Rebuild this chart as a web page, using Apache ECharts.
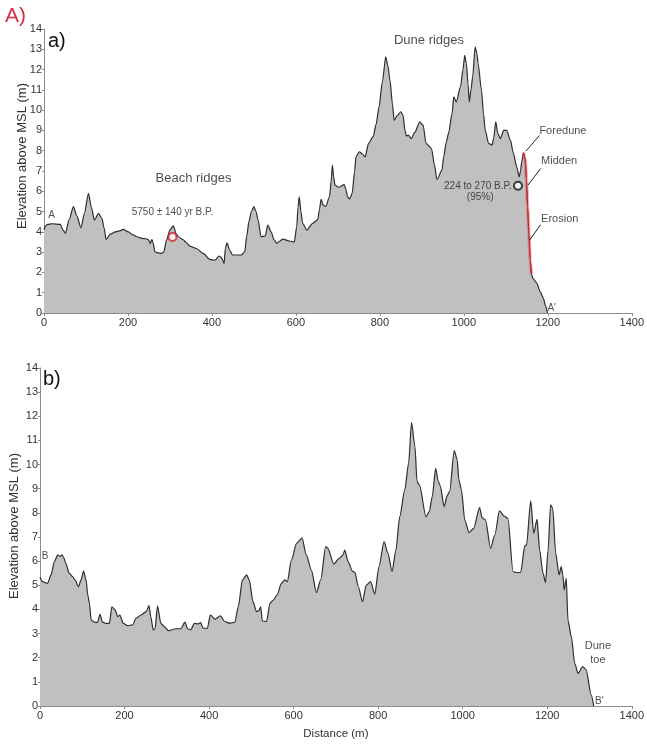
<!DOCTYPE html>
<html>
<head>
<meta charset="utf-8">
<script src="https://cdn.jsdelivr.net/npm/echarts@6/dist/echarts.min.js"></script>
<style>
  html, body { margin: 0; padding: 0; background: #fff; }
  #chart { width: 647px; height: 746px; }
</style>
</head>
<body>
<div id="chart"></div>
<script>
// Profile A–A' : distance along transect (m) and elevation above MSL (m)
const distA = [0, 4, 8, 20, 39, 45, 51, 60, 70, 78, 88, 96, 106, 113, 120, 130, 138, 143, 148, 158,
  170, 180, 189, 201, 212, 221, 233, 243, 249, 253, 257, 260, 264, 272, 280, 285, 292, 300, 308, 315,
  320, 332, 340, 347, 363, 379, 395, 407, 417, 422, 426, 429, 432, 436, 442, 449, 470, 478, 483, 488,
  494, 500, 505, 510, 517, 527, 533, 541, 548, 555, 562, 569, 585, 596, 602, 605, 608, 612, 616, 626,
  640, 652, 656, 660, 665, 671, 680, 684, 687, 690, 693, 702, 715, 719, 723, 728, 734, 740, 743, 751,
  758, 765, 773, 784, 791, 798, 806, 814, 819, 824, 830, 834, 842, 850, 855, 860, 863, 868, 875, 883,
  895, 903, 910, 923, 930, 936, 948, 952, 958, 964, 972, 976, 982, 992, 998, 1002, 1006, 1010, 1013, 1017,
  1021, 1027, 1031, 1034, 1042, 1047, 1051, 1059, 1067, 1071, 1076, 1081, 1087, 1095, 1102, 1111, 1118, 1126, 1132, 1135,
  1138, 1142, 1146, 1149, 1152, 1155, 1158, 1161, 1165, 1173, 1182, 1189, 1195, 1199];
const elevA = [4.1, 4.3, 4.37, 4.4, 4.37, 4.1, 3.93, 4.6, 5.24, 4.8, 4.2, 4.9, 5.9, 5.2, 4.58, 4.91, 4.66, 4.2, 3.63, 3.89,
  4.0, 4.05, 4.12, 4.0, 3.85, 3.76, 3.68, 3.66, 3.6, 3.43, 3.62, 3.45, 3.02, 2.96, 2.94, 3.0, 3.6, 4.1, 4.29, 3.9,
  3.76, 3.6, 3.45, 3.3, 3.18, 2.94, 2.64, 2.6, 2.81, 2.75, 2.6, 2.45, 3.2, 3.46, 3.1, 2.86, 2.86, 3.02, 3.8, 4.5,
  5.0, 5.24, 5.0, 4.58, 3.76, 3.8, 4.33, 4.0, 3.6, 3.43, 3.55, 3.64, 3.55, 3.5, 4.25, 5.2, 5.73, 5.0, 4.42, 4.09,
  4.42, 4.6, 5.1, 5.6, 5.32, 5.25, 5.73, 6.5, 7.29, 6.7, 6.3, 6.2, 6.33, 6.1, 5.73, 5.62, 5.9, 7.0, 7.7, 7.95,
  7.85, 7.7, 8.36, 8.69, 9.3, 10.16, 11.4, 12.63, 12.2, 11.48, 10.3, 9.5, 9.75, 9.92, 9.75, 9.0, 8.72, 8.77, 8.6, 8.9,
  9.42, 9.26, 8.36, 8.11, 7.3, 6.58, 7.04, 7.7, 8.4, 8.9, 9.84, 10.66, 10.4, 11.15, 12.0, 12.7, 12.3, 11.3, 10.4, 11.0,
  11.64, 13.12, 12.8, 12.3, 10.99, 9.8, 9.0, 8.36, 8.27, 8.6, 9.42, 8.85, 8.6, 9.0, 9.0, 8.52, 7.87, 7.21, 6.71, 7.0,
  7.45, 7.9, 7.6, 6.6, 5.2, 3.9, 2.6, 1.9, 1.7, 1.5, 1.05, 0.75, 0.35, 0];

// Eroded seaward face of the foredune (highlighted span of profile A)
const erosionSpan = [1142, 1161];

// Dated samples on profile A: [distance, elevation]
const beachDate = [306, 3.75];
const middenDate = [1129, 6.27];

// Profile B–B'
const distB = [0, 6, 18, 26, 34, 42, 47, 52, 56, 61, 69, 77, 83, 91, 97, 103, 109, 113, 117, 121,
  129, 136, 142, 148, 156, 164, 170, 178, 184, 189, 197, 207, 219, 227, 239, 251, 258, 262, 268, 272,
  278, 286, 294, 304, 321, 333, 343, 349, 357, 365, 374, 380, 386, 396, 403, 414, 427, 437, 449, 461,
  469, 479, 489, 495, 504, 512, 518, 522, 526, 536, 544, 552, 561, 571, 579, 585, 595, 607, 620, 630,
  642, 654, 664, 676, 681, 695, 708, 717, 721, 729, 739, 745, 753, 763, 772, 782, 792, 802, 814, 823,
  833, 842, 851, 863, 872, 879, 887, 892, 898, 913, 921, 928, 936, 942, 947, 956, 963, 969, 980, 987,
  991, 997, 1005, 1015, 1026, 1040, 1046, 1054, 1066, 1076, 1087, 1098, 1107, 1119, 1127, 1137, 1147, 1151, 1161, 1168,
  1176, 1182, 1190, 1196, 1202, 1208, 1213, 1220, 1228, 1233, 1237, 1240, 1245, 1249, 1257, 1265, 1273, 1284, 1292, 1304,
  1310];
const elevB = [5.33, 5.15, 5.08, 5.43, 5.98, 6.26, 6.2, 6.26, 6.15, 5.91, 5.5, 5.36, 5.22, 4.94, 5.22, 5.59, 5.22, 4.6, 4.25, 3.56,
  3.47, 3.46, 3.8, 3.47, 3.42, 3.42, 4.11, 3.98, 3.7, 3.77, 3.42, 3.33, 3.36, 3.63, 3.77, 3.91, 4.16, 3.7, 3.15, 3.2,
  4.14, 3.42, 3.29, 3.12, 3.2, 3.2, 3.47, 3.2, 3.16, 3.42, 3.4, 3.45, 3.22, 3.22, 3.77, 3.6, 3.73, 3.5, 3.43, 3.47,
  4.11, 5.22, 5.43, 5.22, 4.32, 3.91, 3.95, 4.11, 3.52, 3.5, 4.25, 4.39, 4.6, 5.08, 5.22, 5.15, 6.05, 6.74, 6.95, 6.26,
  5.63, 4.7, 5.22, 6.6, 6.53, 5.88, 6.12, 6.26, 6.46, 5.98, 5.59, 5.54, 4.94, 4.32, 5.01, 5.15, 4.64, 5.77, 6.81, 6.33,
  5.57, 6.46, 7.84, 8.95, 10.05, 11.74, 10.75, 9.3, 9.14, 7.84, 8.05, 8.67, 9.84, 9.3, 9.12, 8.26, 8.7, 8.88, 10.58, 10.2,
  9.36, 8.95, 7.7, 7.18, 7.36, 8.22, 7.8, 7.7, 6.53, 7.08, 8.08, 7.87, 7.77, 5.57, 5.53, 5.53, 6.63, 6.67, 8.5, 7.15,
  7.73, 6.46, 5.5, 5.11, 6.46, 8.33, 8.19, 6.33, 5.43, 5.77, 5.43, 4.81, 5.29, 3.56, 2.87, 1.77, 1.35, 1.63, 1.5, 0.46,
  0];

const xMin = 0, xMax = 1400, xStep = 200;
const yMin = 0, yMax = 14, yStep = 1;

const FONT = '"Liberation Sans", Arial, sans-serif';
const AXIS_GREY = '#8c8c8c';
const FILL = '#c0c0c0';
const OUTLINE = '#2e2e2e';
const RED = '#d4314b';

const pairs = (xs, ys) => xs.map((x, i) => [x, ys[i]]);
const profileA = pairs(distA, elevA);
const profileB = pairs(distB, elevB);
const erosionFace = profileA.filter(p => p[0] >= erosionSpan[0] && p[0] <= erosionSpan[1]);

function xAxisFor(grid, withName) {
  return {
    gridIndex: grid, type: 'value', min: xMin, max: xMax, interval: xStep,
    axisLine: { show: true, onZero: false, lineStyle: { color: AXIS_GREY, width: 1 } },
    axisTick: { show: true, length: 3, lineStyle: { color: AXIS_GREY } },
    axisLabel: { color: '#333', fontSize: 11, fontFamily: FONT, margin: 4, showMaxLabel: true,
      formatter: v => String(v) },
    splitLine: { show: false },
    name: withName ? 'Distance (m)' : '',
    nameLocation: 'middle', nameGap: 22,
    nameTextStyle: { color: '#333', fontSize: 11.5, fontFamily: FONT }
  };
}
function yAxisFor(grid) {
  return {
    gridIndex: grid, type: 'value', min: yMin, max: yMax, interval: yStep,
    axisLine: { show: true, onZero: false, lineStyle: { color: AXIS_GREY, width: 1 } },
    axisTick: { show: true, length: 2, lineStyle: { color: AXIS_GREY } },
    axisLabel: { color: '#333', fontSize: 11, fontFamily: FONT, margin: 2 },
    splitLine: { show: false }
  };
}

// Text annotations placed in data coordinates: [x, y, text, align, fontSize]
const notesA = [
  [356, 6.65, 'Beach ridges', 'center', 13],
  [306, 4.98, '5750 \u00b1 140 yr B.P.', 'center', 10],
  [917, 13.45, 'Dune ridges', 'center', 13],
  [1114, 6.26, '224 to 270 B.P.', 'right', 10],
  [1039, 5.71, '(95%)', 'center', 10],
  [1180, 8.95, 'Foredune', 'left', 11],
  [1184, 7.47, 'Midden', 'left', 11],
  [1184, 4.62, 'Erosion', 'left', 11],
  [18, 4.8, 'A', 'center', 10],
  [1199, 0.25, 'A\u2032', 'left', 10]
];
const notesB = [
  [12, 6.22, 'B', 'center', 10],
  [1313, 0.18, 'B\u2032', 'left', 10],
  [1320, 2.5, 'Dune', 'center', 11],
  [1320, 1.92, 'toe', 'center', 11]
];
// Leader lines from the foredune face to its labels
const leaders = [
  [[1148, 7.98], [1180, 8.75]],
  [[1153, 6.31], [1183, 7.12]],
  [[1157, 3.6], [1183, 4.36]]
];

function noteSeries(notes, grid, extra) {
  return Object.assign({
    type: 'scatter', xAxisIndex: grid, yAxisIndex: grid,
    symbolSize: 0, silent: true, z: 20,
    data: notes.map(n => ({
      value: [n[0], n[1]], name: n[2],
      label: {
        show: true, position: 'inside', formatter: '{b}',
        align: n[3], verticalAlign: 'middle',
        fontSize: n[4], fontFamily: FONT, color: '#222'
      }
    }))
  }, extra || {});
}

const chart = echarts.init(document.getElementById('chart'), null, { renderer: 'canvas' });

chart.setOption({
  animation: false,
  backgroundColor: '#fff',
  grid: [
    { left: 44, top: 29, width: 588, height: 284 },
    { left: 40, top: 368, width: 592, height: 338 }
  ],
  xAxis: [xAxisFor(0, false), xAxisFor(1, true)],
  yAxis: [yAxisFor(0), yAxisFor(1)],
  series: [
    {
      type: 'line', xAxisIndex: 0, yAxisIndex: 0, data: profileA,
      symbol: 'none', smooth: 0.25, smoothMonotone: 'x',
      lineStyle: { color: OUTLINE, width: 1.2 },
      areaStyle: { color: FILL, opacity: 1 }, z: 2
    },
    {
      type: 'line', xAxisIndex: 0, yAxisIndex: 0, data: erosionFace,
      symbol: 'none', smooth: 0.25, smoothMonotone: 'x',
      lineStyle: { color: 'rgba(225,110,110,0.55)', width: 3.5 }, z: 3
    },
    {
      type: 'line', xAxisIndex: 0, yAxisIndex: 0, data: erosionFace,
      symbol: 'none', smooth: 0.25, smoothMonotone: 'x',
      lineStyle: { color: '#c8283a', width: 1.2 }, z: 4
    },
    {
      type: 'scatter', xAxisIndex: 0, yAxisIndex: 0, symbol: 'circle', symbolSize: 8, z: 10,
      data: [
        { value: beachDate, itemStyle: { color: '#fff', borderColor: '#d81e2e', borderWidth: 2 } },
        { value: middenDate, itemStyle: { color: '#fff', borderColor: '#111', borderWidth: 2 } }
      ]
    },
    noteSeries(notesA, 0, {
      markLine: {
        silent: true, symbol: 'none', animation: false,
        label: { show: false },
        lineStyle: { color: '#222', width: 1, type: 'solid' },
        data: leaders.map(l => [{ coord: l[0] }, { coord: l[1] }])
      }
    }),
    {
      type: 'line', xAxisIndex: 1, yAxisIndex: 1, data: profileB,
      symbol: 'none', smooth: 0.25, smoothMonotone: 'x',
      lineStyle: { color: OUTLINE, width: 1.2 },
      areaStyle: { color: FILL, opacity: 1 }, z: 2
    },
    noteSeries(notesB, 1)
  ],
  graphic: [
    { type: 'text', left: 5, top: 6, style: { text: 'A)', fill: RED, fontSize: 21, fontFamily: FONT } },
    { type: 'text', left: 48, top: 31, style: { text: 'a)', fill: '#111', fontSize: 20, fontFamily: FONT } },
    { type: 'text', left: 43, top: 369, style: { text: 'b)', fill: '#111', fontSize: 20, fontFamily: FONT } },
    { type: 'text', x: 22, y: 156, rotation: Math.PI / 2,
      style: { text: 'Elevation above MSL (m)', fill: '#333', fontSize: 13, fontFamily: FONT, align: 'center', verticalAlign: 'middle' } },
    { type: 'text', x: 14, y: 526, rotation: Math.PI / 2,
      style: { text: 'Elevation above MSL (m)', fill: '#333', fontSize: 13, fontFamily: FONT, align: 'center', verticalAlign: 'middle' } }
  ]
});
</script>
</body>
</html>
